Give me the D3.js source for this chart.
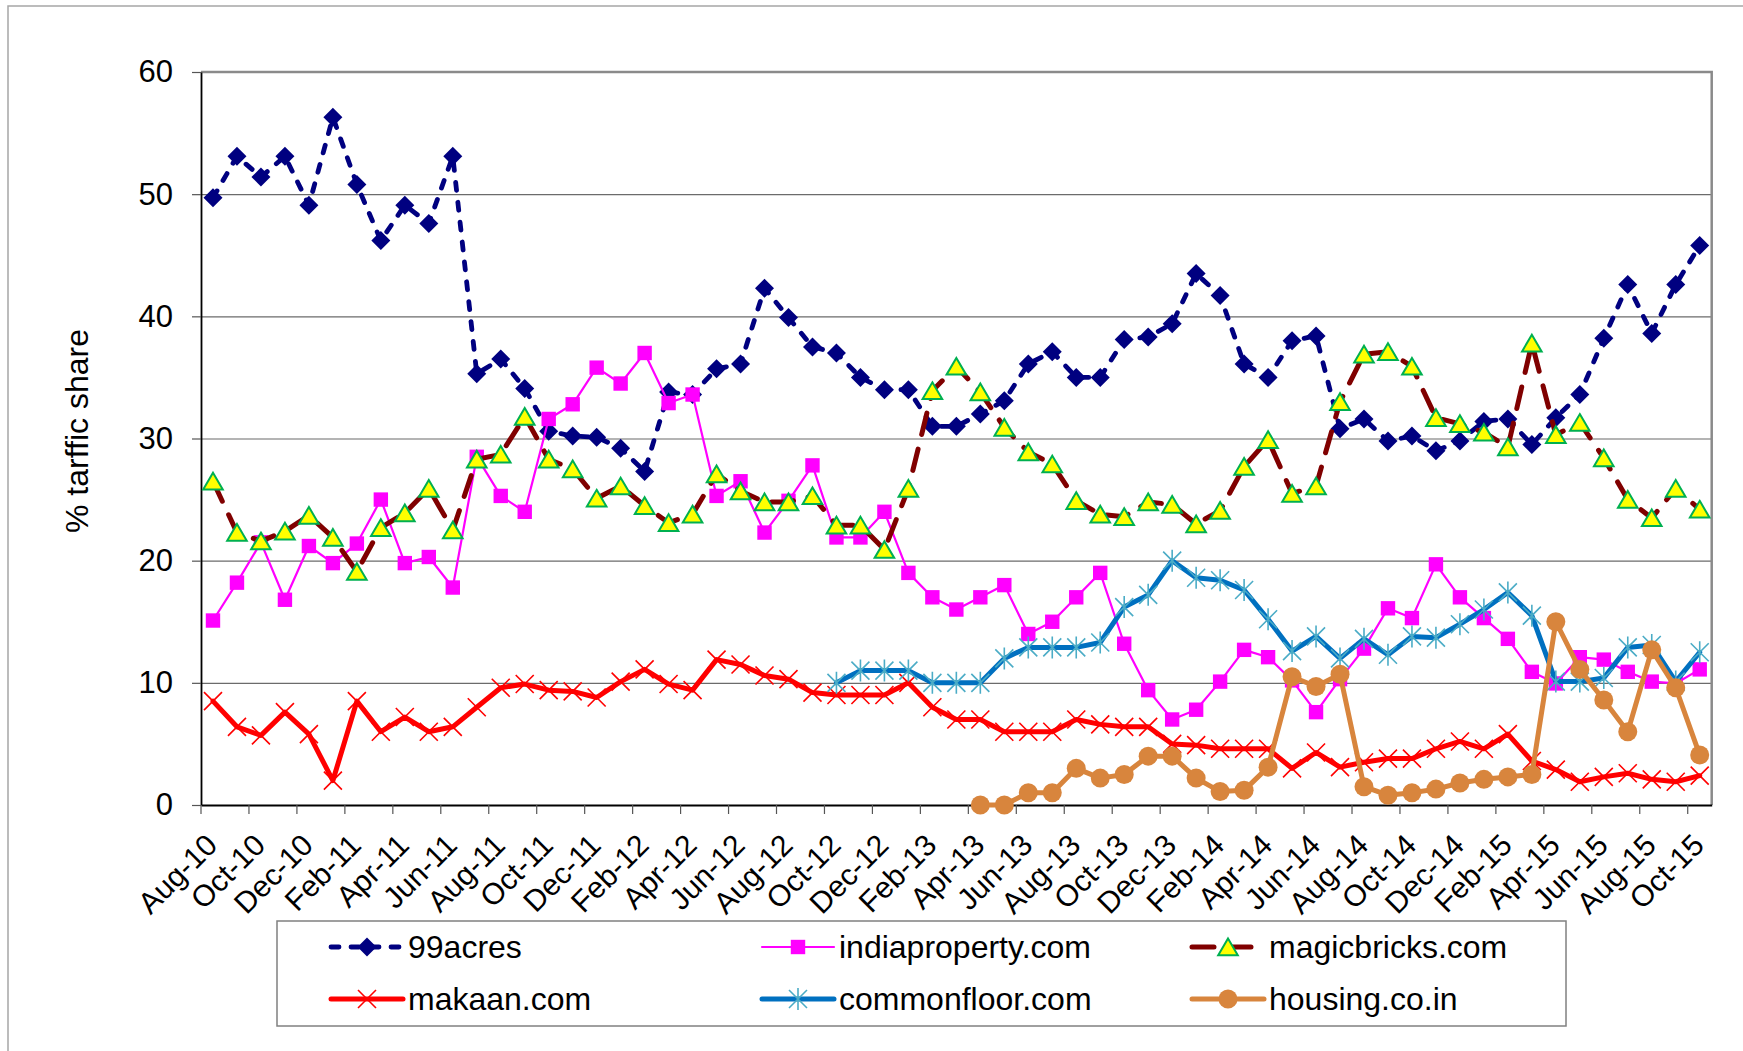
<!DOCTYPE html>
<html>
<head>
<meta charset="utf-8">
<script src="https://cdn.jsdelivr.net/npm/d3@7"></script>
<style>
  html, body { margin: 0; padding: 0; background: #fff; }
  svg { display: block; font-family: "Liberation Sans", Arial, sans-serif; }
</style>
</head>
<body>
<svg id="chart" width="1743" height="1051"></svg>
<script>
// ---------------- DATA ----------------
const months = ["Aug-10","Sep-10","Oct-10","Nov-10","Dec-10","Jan-11","Feb-11","Mar-11","Apr-11","May-11","Jun-11","Jul-11",
  "Aug-11","Sep-11","Oct-11","Nov-11","Dec-11","Jan-12","Feb-12","Mar-12","Apr-12","May-12","Jun-12","Jul-12",
  "Aug-12","Sep-12","Oct-12","Nov-12","Dec-12","Jan-13","Feb-13","Mar-13","Apr-13","May-13","Jun-13","Jul-13",
  "Aug-13","Sep-13","Oct-13","Nov-13","Dec-13","Jan-14","Feb-14","Mar-14","Apr-14","May-14","Jun-14","Jul-14",
  "Aug-14","Sep-14","Oct-14","Nov-14","Dec-14","Jan-15","Feb-15","Mar-15","Apr-15","May-15","Jun-15","Jul-15",
  "Aug-15","Sep-15","Oct-15"];

const yTicks = [0, 10, 20, 30, 40, 50, 60];

const acres99 = [49.7,53.1,51.4,53.1,49.1,56.3,50.8,46.2,49.1,47.6,53.1,35.3,36.5,34.1,30.6,30.2,30.1,
  29.2,27.3,33.8,33.6,35.7,36.1,42.3,39.9,37.5,37.0,35.0,34.0,34.0,31.0,31.0,32.0,
  33.1,36.1,37.1,35.0,35.0,38.1,38.3,39.4,43.5,41.7,36.1,35.0,38.0,38.4,30.8,31.6,
  29.8,30.2,29.0,29.8,31.4,31.6,29.5,31.7,33.6,38.2,42.6,38.6,42.6,45.8];

const indiaproperty = [15.1,18.2,21.5,16.8,21.2,19.8,21.4,25.0,19.8,20.3,17.8,28.5,25.3,24.0,31.6,32.8,35.8,
  34.5,37.0,32.9,33.6,25.3,26.5,22.3,24.9,27.8,21.9,21.9,24.0,19.0,17.0,16.0,17.0,
  18.0,14.0,15.0,17.0,19.0,13.2,9.4,7.0,7.8,10.1,12.7,12.1,10.2,7.6,10.3,12.8,
  16.1,15.3,19.7,17.0,15.3,13.6,10.9,9.95,12.1,11.9,10.9,10.1,9.95,11.1];

const magicbricks = [26.5,22.3,21.6,22.4,23.7,21.9,19.1,22.7,23.9,25.9,22.5,28.3,28.7,31.8,28.3,27.5,25.1,
  26.1,24.5,23.1,23.8,27.1,25.7,24.8,24.8,25.3,22.9,22.9,20.9,25.9,33.9,35.9,33.8,
  30.9,28.9,27.9,24.9,23.8,23.6,24.8,24.6,23.0,24.1,27.7,29.9,25.5,26.1,33.0,36.9,
  37.1,35.9,31.7,31.2,30.5,29.3,37.8,30.3,31.3,28.4,25.0,23.5,25.9,24.2];

const makaan = [8.5,6.4,5.7,7.6,5.8,2.0,8.5,6.0,7.2,6.0,6.4,8.0,9.6,9.9,9.4,9.3,8.8,
  10.1,11.1,9.9,9.4,11.9,11.5,10.6,10.3,9.2,9.0,9.0,9.0,10.0,8.0,7.0,7.0,
  6.0,6.0,6.0,7.0,6.6,6.4,6.4,5.0,4.9,4.6,4.6,4.6,3.0,4.3,3.1,3.5,
  3.8,3.8,4.6,5.2,4.6,5.8,3.6,2.9,1.9,2.3,2.6,2.1,1.9,2.4];

const commonfloor = [null,null,null,null,null,null,null,null,null,null,null,null,null,
  null,null,null,null,null,null,null,null,null,null,null,null,null,
  10.0,11.0,11.0,11.0,10.0,10.0,10.0,
  12.0,12.9,12.9,12.9,13.3,16.2,17.2,20.0,18.6,18.4,17.6,15.2,12.6,13.8,12.0,13.6,
  12.3,13.8,13.7,14.8,16.0,17.4,15.5,10.1,10.1,10.4,12.9,13.1,10.1,12.5];

const housing = [null,null,null,null,null,null,null,null,null,null,null,null,null,null,null,null,
  null,null,null,null,null,null,null,null,null,null,null,null,null,null,null,null,
  0.0,0.0,1.0,1.0,3.0,2.2,2.5,4.0,4.0,2.2,1.1,1.2,3.1,10.5,9.7,10.7,1.5,
  0.8,1.0,1.3,1.8,2.1,2.3,2.5,15.0,11.1,8.6,6.0,12.7,9.6,4.1];

const seriesNames = ["99acres", "indiaproperty.com", "magicbricks.com", "makaan.com", "commonfloor.com", "housing.co.in"];
const seriesValues = [acres99, indiaproperty, magicbricks, makaan, commonfloor, housing];

// ---------------- STYLES ----------------
const styles = [
  { stroke: "#000080", width: 4.8, dash: "8 12", marker: "diamond", mFill: "#000080", mStroke: "none" },
  { stroke: "#FF00FF", width: 2.2, dash: null, marker: "square", mFill: "#FF00FF", mStroke: "none" },
  { stroke: "#800000", width: 5, dash: "22 15", marker: "triangle", mFill: "#FFFF00", mStroke: "#00B050" },
  { stroke: "#FF0000", width: 5, dash: null, marker: "x", mFill: "none", mStroke: "#FF0000" },
  { stroke: "#0070C0", width: 5, dash: null, marker: "star", mFill: "none", mStroke: "#4BACC6" },
  { stroke: "#D8853D", width: 5, dash: null, marker: "circle", mFill: "#D8853D", mStroke: "none" }
];

function markerPath(type) {
  switch (type) {
    case "diamond": return "M0,-9.5L9.5,0L0,9.5L-9.5,0Z";
    case "square": return "M-7.2,-7.2H7.2V7.2H-7.2Z";
    case "triangle": return "M0,-8.5L9.8,8.2L-9.8,8.2Z";
    case "x": return "M-9,-9L9,9M-9,9L9,-9";
    case "star": return "M-9,-9L9,9M-9,9L9,-9M0,-11L0,11";
    case "circle": return "M9.5,0A9.5,9.5 0 1,1 -9.5,0A9.5,9.5 0 1,1 9.5,0Z";
  }
}

// ---------------- LAYOUT ----------------
const svg = d3.select("#chart");
const L = 201, R = 1711.7, T = 72, B = 805;
const x = d3.scaleBand().domain(months).range([L, R]).paddingInner(0).paddingOuter(0);
const bw = x.bandwidth();
const cx = m => x(m) + bw / 2;
const y = d3.scaleLinear().domain([0, 60]).range([B, T]);

// outer frame
svg.append("rect").attr("x", 8).attr("y", 6).attr("width", 1800).attr("height", 1100)
  .attr("fill", "none").attr("stroke", "#a6a6a6").attr("stroke-width", 1.5);

// gridlines
const grid = svg.append("g").attr("transform", `translate(${L},0)`)
  .call(d3.axisLeft(y).tickValues(yTicks.filter(v => v > 0 && v < 60)).tickSize(-(R - L)).tickFormat(""));
grid.select(".domain").remove();
grid.selectAll("line").attr("stroke", "#6b6b6b").attr("stroke-width", 1.2);

// plot border top & right
svg.append("path").attr("d", `M${L},${T}H${R}V${B}`).attr("fill", "none")
  .attr("stroke", "#8a8a8a").attr("stroke-width", 2.5);

// y axis
const yAxis = svg.append("g").attr("transform", `translate(${L},0)`)
  .call(d3.axisLeft(y).tickValues(yTicks).tickSize(9).tickPadding(19).tickSizeOuter(0));
yAxis.select(".domain").attr("stroke", "#000").attr("stroke-width", 1.8);
yAxis.selectAll(".tick line").attr("stroke", "#555").attr("stroke-width", 1.2);
yAxis.selectAll("text").attr("font-size", 31).attr("fill", "#000")
  .attr("font-family", "'Liberation Sans', Arial, sans-serif");

// x axis
const xAxis = svg.append("g").attr("transform", `translate(0,${B})`)
  .call(d3.axisBottom(x).tickValues([]).tickSizeOuter(0));
xAxis.select(".domain").attr("stroke", "#000").attr("stroke-width", 2);

const labelled = months.filter((m, i) => i % 2 === 0);
svg.append("g").selectAll("line").data(labelled).join("line")
  .attr("x1", d => x(d)).attr("x2", d => x(d))
  .attr("y1", B).attr("y2", B + 9)
  .attr("stroke", "#555").attr("stroke-width", 1.2);

svg.append("g").selectAll("text").data(labelled).join("text")
  .attr("transform", d => `translate(${cx(d) + 6},${B + 42}) rotate(-45)`)
  .attr("text-anchor", "end")
  .attr("font-size", 30)
  .attr("fill", "#000")
  .text(d => d);

// y title
svg.append("text")
  .attr("transform", `translate(77,431) rotate(-90)`)
  .attr("text-anchor", "middle").attr("dominant-baseline", "central")
  .attr("font-size", 32).attr("fill", "#000")
  .text("% tarffic share");

// ---------------- SERIES ----------------
const line = d3.line().defined(d => d.v != null).x(d => cx(d.m)).y(d => y(d.v));

seriesValues.forEach((vals, si) => {
  const st = styles[si];
  const pts = vals.map((v, i) => ({ m: months[i], v }));
  const g = svg.append("g");
  g.append("path").datum(pts).attr("d", line)
    .attr("fill", "none").attr("stroke", st.stroke).attr("stroke-width", st.width)
    .attr("stroke-linejoin", "round").attr("stroke-linecap", "round")
    .attr("stroke-dasharray", st.dash);
  g.selectAll("path.mk").data(pts.filter(d => d.v != null)).join("path")
    .attr("class", "mk")
    .attr("transform", d => `translate(${cx(d.m)},${y(d.v)})`)
    .attr("d", markerPath(st.marker))
    .attr("fill", st.mFill).attr("stroke", st.mStroke)
    .attr("stroke-width", st.marker === "triangle" ? 2 : 1.6);
});

// ---------------- LEGEND ----------------
svg.append("rect").attr("x", 277).attr("y", 921).attr("width", 1289).attr("height", 105)
  .attr("fill", "#fff").attr("stroke", "#808080").attr("stroke-width", 1.5);

const colX = [331, 762, 1192], rowY = [947, 999];
seriesNames.forEach((name, si) => {
  const st = styles[si];
  const lx = colX[si % 3], ly = rowY[Math.floor(si / 3)];
  const g = svg.append("g");
  g.append("line").attr("x1", lx).attr("x2", lx + 72).attr("y1", ly).attr("y2", ly)
    .attr("stroke", st.stroke).attr("stroke-width", st.width)
    .attr("stroke-linecap", "round").attr("stroke-dasharray", st.dash);
  g.append("path").attr("transform", `translate(${lx + 36},${ly})`)
    .attr("d", markerPath(st.marker))
    .attr("fill", st.mFill).attr("stroke", st.mStroke)
    .attr("stroke-width", st.marker === "triangle" ? 2 : 1.6);
  g.append("text").attr("x", lx + 77).attr("y", ly).attr("dominant-baseline", "central")
    .attr("font-size", 32).attr("fill", "#000").text(name);
});
</script>
</body>
</html>
